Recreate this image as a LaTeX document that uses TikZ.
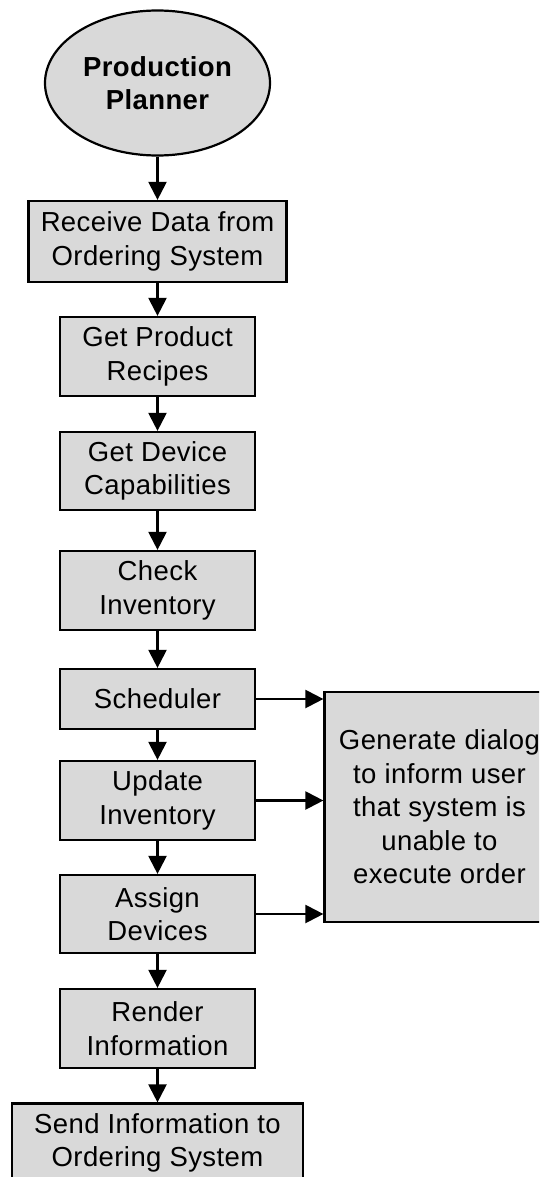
\documentclass[tikz,border=0pt]{standalone}
\usepackage{fontspec}
\setmainfont{Liberation Sans}[LetterSpace=1.5]
\usetikzlibrary{arrows.meta,shapes.geometric}

\definecolor{boxfill}{RGB}{217,217,217}

\tikzset{
  every node/.style={font=\fontsize{27.5pt}{33.5pt}\selectfont},
  base/.style={draw=black, line width=2.2pt, fill=boxfill, inner sep=0pt, align=center},
  stepbox/.style={base, rectangle, minimum width=195pt, minimum height=79pt},
  startnode/.style={base, ellipse, minimum width=225pt, minimum height=145pt,
    font=\fontsize{27.5pt}{33.5pt}\selectfont\bfseries},
  flow/.style={line width=2.2pt, -{Triangle[length=18pt,width=18pt]}},
}

\begin{document}
\begin{tikzpicture}[x=1pt,y=1pt]
  \path[use as bounding box] (0,0) rectangle (539,-1177);
  \clip (0,0) rectangle (539,-1177);

  % main column
  \node[startnode] (planner) at (157.5,-83) {Production\\Planner};
  \node[stepbox, minimum width=258pt, minimum height=81pt] (receive) at (157.5,-241.5)
    {Receive Data from\\Ordering System};
  \node[stepbox] (recipes) at (157.5,-356.5) {Get Product\\Recipes};
  \node[stepbox, minimum height=78pt] (caps) at (157.5,-471) {Get Device\\Capabilities};
  \node[stepbox] (check) at (157.5,-590.5) {Check\\Inventory};
  \node[stepbox, minimum height=60pt] (sched) at (157.5,-699) {Scheduler};
  \node[stepbox] (update) at (157.5,-800.5) {Update\\Inventory};
  \node[stepbox, minimum height=78pt] (assign) at (157.5,-914) {Assign\\Devices};
  \node[stepbox] (render) at (157.5,-1028.5) {Render\\Information};
  \node[stepbox, minimum width=291pt] (send) at (157.5,-1143) {Send Information to\\Ordering System};

  % failure dialog
  \node[base, rectangle, minimum width=230pt, minimum height=230pt] (dialog) at (439.5,-807)
    {Generate dialog\\to inform user\\that system is\\unable to\\execute order};

  % connectors
  \draw[flow] (planner.south) -- (receive.north);
  \draw[flow] (receive.south) -- (recipes.north);
  \draw[flow] (recipes.south) -- (caps.north);
  \draw[flow] (caps.south) -- (check.north);
  \draw[flow] (check.south) -- (sched.north);
  \draw[flow] (sched.south) -- (update.north);
  \draw[flow] (update.south) -- (assign.north);
  \draw[flow] (assign.south) -- (render.north);
  \draw[flow] (render.south) -- (send.north);

  \draw[flow] (sched.east) -- (sched.east -| dialog.west);
  \draw[flow] (update.east) -- (update.east -| dialog.west);
  \draw[flow] (assign.east) -- (assign.east -| dialog.west);
\end{tikzpicture}
\end{document}
